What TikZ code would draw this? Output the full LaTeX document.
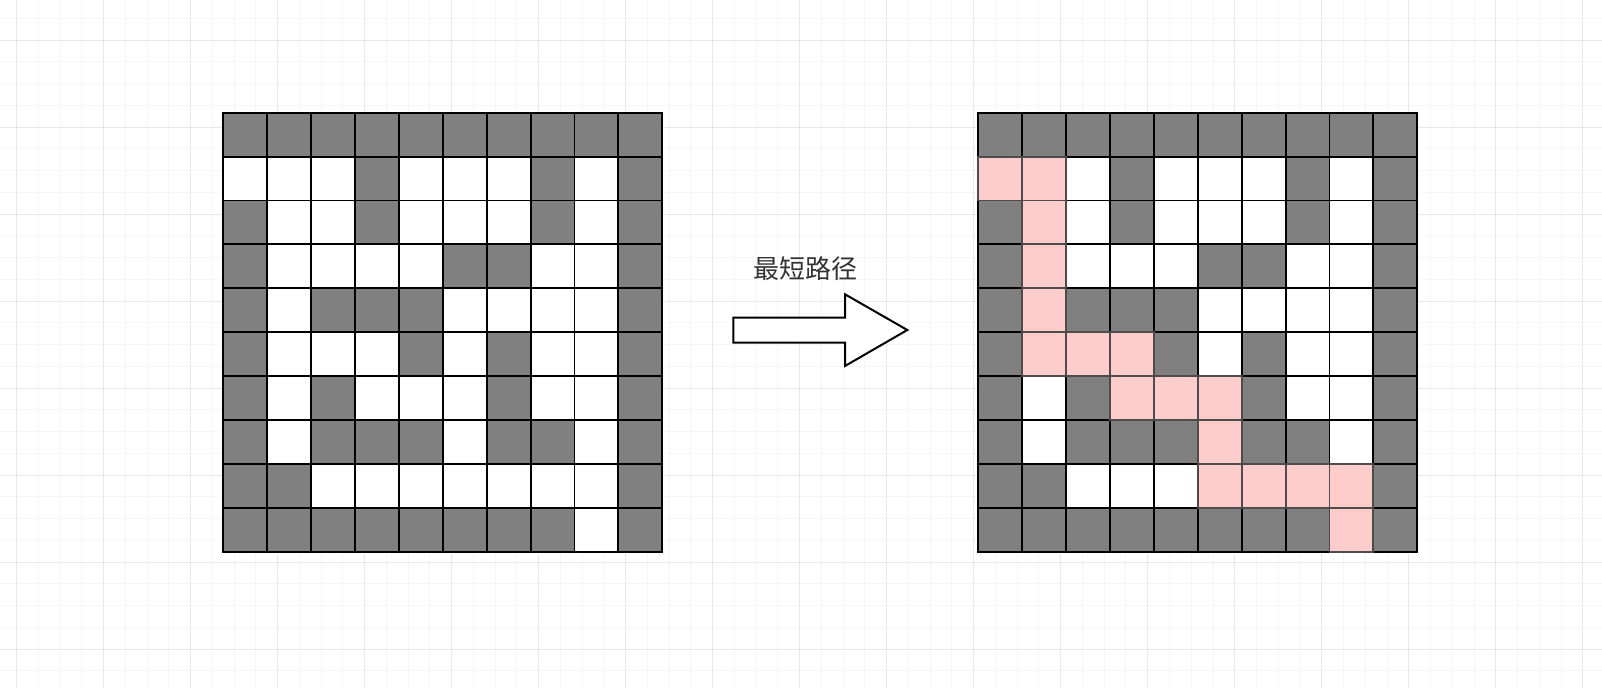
\documentclass[tikz,border=0pt]{standalone}
\usepackage{fontspec}
\newfontfamily\cjk{Noto Sans CJK SC}
\tikzset{
  free/.style={draw=black, fill=white, line width=1.4pt},
  wall/.style={draw=black, fill=gray, line width=1.4pt},
  route/.style={draw=black!70, fill=red!20, line width=1.4pt},
  minorline/.style={draw=gray!7, line width=0.7pt},
  majorline/.style={draw=gray!18, line width=0.7pt},
}
\begin{document}
\begin{tikzpicture}[x=0.75pt, y=-0.75pt]
\useasboundingbox (0,0) rectangle (1602,688);
\fill[white] (0,0) rectangle (1602,688);
% background paper grid
\foreach \k in {0,...,73} \draw[minorline] ({16.7+21.75*\k},0) -- ++(0,688);
\foreach \k in {0,...,31} \draw[minorline] (0,{18.3+21.75*\k}) -- ++(1602,0);
\foreach \k in {0,...,18} \draw[majorline] ({16.7+87*\k},0) -- ++(0,688);
\foreach \k in {0,...,7} \draw[majorline] (0,{40+87*\k}) -- ++(1602,0);
% the maze, 1 = wall, drawn twice
\foreach \row [count=\j from 0] in {
  {1,1,1,1,1,1,1,1,1,1},
  {0,0,0,1,0,0,0,1,0,1},
  {1,0,0,1,0,0,0,1,0,1},
  {1,0,0,0,0,1,1,0,0,1},
  {1,0,1,1,1,0,0,0,0,1},
  {1,0,0,0,1,0,1,0,0,1},
  {1,0,1,0,0,0,1,0,0,1},
  {1,0,1,1,1,0,1,1,0,1},
  {1,1,0,0,0,0,0,0,0,1},
  {1,1,1,1,1,1,1,1,0,1}}
  \foreach \cell [count=\i from 0] in \row {
    \ifnum\cell=1 \def\kind{wall}\else\def\kind{free}\fi
    \draw[style=\kind] ({223.3+43.9*\i},{112.7+43.9*\j}) rectangle ++(43.9,43.9);
    \draw[style=\kind] ({978.3+43.9*\i},{112.7+43.9*\j}) rectangle ++(43.9,43.9);
  }
% shortest path
\foreach \i/\j in {0/1,1/1,1/2,1/3,1/4,1/5,2/5,3/5,3/6,4/6,5/6,5/7,5/8,6/8,7/8,8/8,8/9}
  \draw[route] ({978.3+43.9*\i},{112.7+43.9*\j}) rectangle ++(43.9,43.9);
% block arrow
\draw[line width=1.5pt, fill=white] (733.3,317.7) -- (845,317.7) -- (845,294.3)
  -- (907.3,330) -- (845,366) -- (845,342.7) -- (733.3,342.7) -- cycle;
\node[font=\cjk\fontsize{19.5}{19.5}\selectfont, text=black!80] (label) at (805,269) {最短路径};
\end{tikzpicture}
\end{document}
